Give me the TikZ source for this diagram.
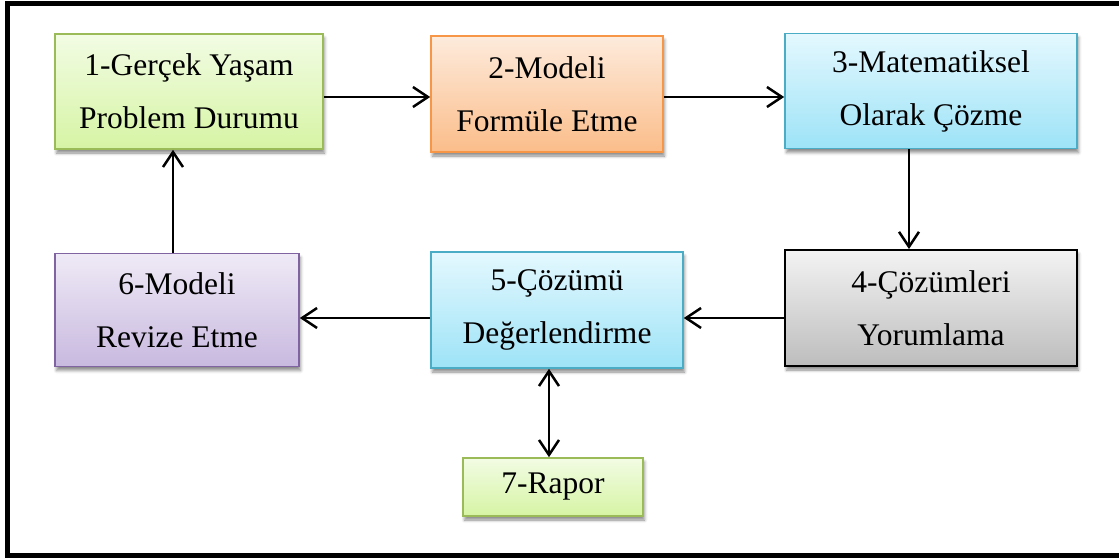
\documentclass[tikz,border=0pt]{standalone}
\usepackage{fontspec}
\setmainfont{LiberationSerif}[Extension=.ttf, UprightFont=*-Regular, BoldFont=*-Bold]
\usetikzlibrary{arrows.meta,shadows.blur}

\definecolor{grTop}{HTML}{F2FCE4}
\definecolor{grBot}{HTML}{D6F4A4}
\definecolor{grLine}{HTML}{9BBB59}
\definecolor{orTop}{HTML}{FDEBDC}
\definecolor{orBot}{HTML}{FBBD8A}
\definecolor{orLine}{HTML}{F79646}
\definecolor{blTop}{HTML}{E4F8FE}
\definecolor{blBot}{HTML}{9DE3F7}
\definecolor{blLine}{HTML}{4BACC6}
\definecolor{gyTop}{HTML}{F3F3F3}
\definecolor{gyBot}{HTML}{BDBDBD}
\definecolor{puTop}{HTML}{EFEAF6}
\definecolor{puBot}{HTML}{C8B9DF}
\definecolor{puLine}{HTML}{8064A2}

\tikzset{
  stagebox/.style={rectangle, inner sep=0pt, align=center, line width=1.6pt,
    font=\rmfamily\fontsize{31.5}{53}\selectfont,
    blur shadow={shadow xshift=1.5pt, shadow yshift=-4pt,
                 shadow blur radius=3pt, shadow opacity=45}},
  greenbox/.style={stagebox, draw=grLine, top color=grTop, bottom color=grBot},
  orangebox/.style={stagebox, draw=orLine, top color=orTop, bottom color=orBot},
  bluebox/.style={stagebox, draw=blLine, top color=blTop, bottom color=blBot},
  graybox/.style={stagebox, draw=black, line width=1.8pt, top color=gyTop, bottom color=gyBot},
  purplebox/.style={stagebox, draw=puLine, top color=puTop, bottom color=puBot},
  arr/.style={line width=2.5pt, -{Straight Barb[length=15pt,width=20pt]}},
  dblarr/.style={line width=2.5pt, {Straight Barb[length=15pt,width=20pt]}-{Straight Barb[length=15pt,width=20pt]}}
}

\begin{document}
\begin{tikzpicture}[x=1pt,y=-1pt]
  \useasboundingbox (0,0) rectangle (1119,557);

  % outer frame
  \begin{scope}
    \clip (0,0) rectangle (1119,557);
    \draw[line width=5pt] (7.5,3) rectangle (1130,555);
  \end{scope}

  % stages
  \node[greenbox, minimum width=268pt, minimum height=115pt] (n1) at (189,91.5) {1-Gerçek Yaşam\\Problem Durumu};
  \node[orangebox, minimum width=232pt, minimum height=116pt] (n2) at (547,94) {2-Modeli\\Formüle Etme};
  \node[bluebox, minimum width=292pt, minimum height=115pt] (n3) at (931,91) {3-Matematiksel\\Olarak Çözme};
  \node[graybox, minimum width=292pt, minimum height=116pt] (n4) at (931,308) {4-Çözümleri\\Yorumlama};
  \node[bluebox, minimum width=252pt, minimum height=116pt] (n5) at (557,310) {5-Çözümü\\Değerlendirme};
  \node[purplebox, minimum width=244pt, minimum height=113pt] (n6) at (177,310) {6-Modeli\\Revize Etme};
  \node[greenbox, minimum width=180pt, minimum height=58pt] (n7) at (553,487) {7-Rapor};

  % connector lines
  \coordinate (ya) at (0,97);
  \coordinate (yb) at (0,318);
  \coordinate (xa) at (173,0);
  \coordinate (xc) at (909,0);
  \coordinate (xd) at (549,0);

  \draw[arr] (n1.east |- ya) -- (n2.west |- ya);
  \draw[arr] (n2.east |- ya) -- (n3.west |- ya);
  \draw[arr] (n3.south -| xc) -- (n4.north -| xc);
  \draw[arr] (n4.west |- yb) -- (n5.east |- yb);
  \draw[arr] (n5.west |- yb) -- (n6.east |- yb);
  \draw[arr] (n6.north -| xa) -- (n1.south -| xa);
  \draw[dblarr] (n7.north -| xd) -- (n5.south -| xd);
\end{tikzpicture}
\end{document}
